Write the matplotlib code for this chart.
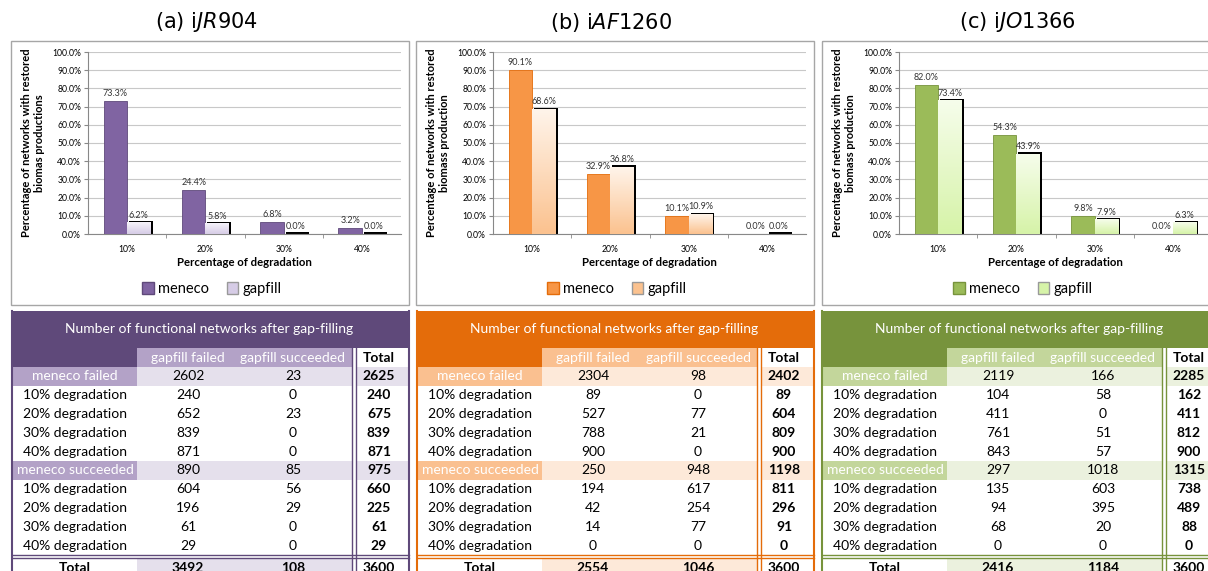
import numpy as np
import matplotlib.pyplot as plt
from matplotlib.colors import LinearSegmentedColormap
from matplotlib.patches import Rectangle, Patch

plt.rcParams['font.family'] = ['Lato', 'DejaVu Sans']

W, H = 1208, 571

# bar chart data (percentage of networks with restored biomass production)
degradation = ['10%', '20%', '30%', '40%']
meneco_jr = [73.3, 24.4, 6.8, 3.2]
gapfill_jr = [6.2, 5.8, 0.0, 0.0]
meneco_af = [90.1, 32.9, 10.1, 0.0]
gapfill_af = [68.6, 36.8, 10.9, 0.0]
meneco_jo = [82.0, 54.3, 9.8, 0.0]
gapfill_jo = [73.4, 43.9, 7.9, 6.3]

titles = ['(a) i$\\mathit{JR}$904', '(b) i$\\mathit{AF}$1260', '(c) i$\\mathit{JO}$1366']
ylabels = ['Percentage of networks with restored\nbiomas productions',
           'Percentage of networks with restored\nbiomass production',
           'Percentage of networks with restored\nbiomass production']

# table data
row_labels = ['meneco failed', '10% degradation', '20% degradation', '30% degradation', '40% degradation',
              'meneco succeeded', '10% degradation', '20% degradation', '30% degradation', '40% degradation']
gf_failed_jr = [2602, 240, 652, 839, 871, 890, 604, 196, 61, 29]
gf_succ_jr = [23, 0, 23, 0, 0, 85, 56, 29, 0, 0]
gf_failed_af = [2304, 89, 527, 788, 900, 250, 194, 42, 14, 0]
gf_succ_af = [98, 0, 77, 21, 0, 948, 617, 254, 77, 0]
gf_failed_jo = [2119, 104, 411, 761, 843, 297, 135, 94, 68, 0]
gf_succ_jo = [166, 58, 0, 51, 57, 1018, 603, 395, 20, 0]

# colours: dark, bar, mid, light, gradient top, gradient bottom
purple = ['#5f497a', '#8064a2', '#b3a2c7', '#e5e0ec', '#f6f3fa', '#d6cce6']
orange = ['#e46c0a', '#f79646', '#fac090', '#fde9d9', '#fff4ea', '#fbc28f']
green = ['#77933c', '#9bbb59', '#c3d69b', '#ebf1de', '#f6fdeb', '#d6f3a8']

fig = plt.figure(figsize=(W / 100, H / 100), dpi=100)
bg = fig.add_axes([0, 0, 1, 1])
bg.set_xlim(0, W)
bg.set_ylim(H, 0)
bg.axis('off')

TFS = 10  # table font size


def draw_chart(x0, meneco, gapfill, cols, title, ylabel):
    # chart frame
    bg.add_patch(Rectangle((x0, 41), 398, 264, fill=False, ec='#a6a6a6', lw=1))
    fig.text((x0 + 195) / W, 1 - 22 / H, title, ha='center', va='center',
             fontsize=15, family='DejaVu Sans')
    ax = fig.add_axes([(x0 + 77) / W, 1 - 234 / H, 313 / W, 182 / H])
    x = np.arange(len(degradation))
    w = 0.3
    ax.bar(x - w / 2, meneco, w, color=cols[1], edgecolor=cols[0], lw=0.6, zorder=3)
    # shadow of gapfill bars
    ax.bar(x + w / 2 + 0.025, [v + 0.9 for v in gapfill], w, color='black', zorder=2)
    cmap = LinearSegmentedColormap.from_list('g', [cols[4], cols[5]])
    grad = np.linspace(1, 0, 64).reshape(-1, 1)
    for xi, v in zip(x, gapfill):
        if v > 0:
            ax.imshow(grad, extent=(xi, xi + w, 0, v), origin='lower', aspect='auto',
                      cmap=cmap, zorder=3)
    for xi, v in zip(x, meneco):
        ax.annotate(f'{v:.1f}%', (xi - w / 2, v), xytext=(0, 2), textcoords='offset points',
                    ha='center', va='bottom', fontsize=6.5, color='#333333')
    for xi, v in zip(x, gapfill):
        ax.annotate(f'{v:.1f}%', (xi + w / 2, v), xytext=(0, 2), textcoords='offset points',
                    ha='center', va='bottom', fontsize=6.5, color='#333333')
    ax.set_xlim(-0.5, 3.5)
    ax.set_ylim(0, 100)
    ax.set_yticks(np.arange(0, 101, 10))
    ax.set_yticklabels([f'{v:.1f}%' for v in np.arange(0, 101, 10)], fontsize=6.2)
    ax.set_xticks(x)
    ax.set_xticklabels(degradation, fontsize=6.2)
    ax.set_xticks([0.5, 1.5, 2.5], minor=True)
    ax.tick_params(axis='x', which='major', length=0, pad=8)
    ax.tick_params(axis='x', which='minor', length=3, color='#888888')
    ax.tick_params(axis='y', length=3, color='#888888', pad=2)
    ax.grid(axis='y', color='#c8c8c8', lw=0.8, zorder=0)
    ax.set_axisbelow(True)
    for s in ['top', 'right']:
        ax.spines[s].set_visible(False)
    for s in ['left', 'bottom']:
        ax.spines[s].set_color('#888888')
    ax.set_xlabel('Percentage of degradation', fontsize=8.2, fontweight='bold', labelpad=2)
    fig.text((x0 + 22) / W, 1 - 143 / H, ylabel, rotation=90, ha='center', va='center',
             fontsize=8, fontweight='bold', multialignment='center', linespacing=1.3)
    handles = [Patch(facecolor=cols[1], edgecolor=cols[0]),
               Patch(facecolor=cols[5], edgecolor='#999999')]
    fig.legend(handles, ['meneco', 'gapfill'], loc='center', ncol=2, frameon=False,
               bbox_to_anchor=((x0 + 201) / W, 1 - 289 / H), fontsize=10.5,
               handlelength=0.8, handleheight=0.8, handletextpad=0.3, columnspacing=1.2)


def draw_table(x0, failed, succ, cols):
    dark, mid, light = cols[0], cols[2], cols[3]
    h = 18.8
    top = 367
    bg.add_patch(Rectangle((x0, 311), 397, 37, color=dark, lw=0))
    bg.add_patch(Rectangle((x0, 348), 125, 19, color=dark, lw=0))
    bg.add_patch(Rectangle((x0 + 125, 348), 215, 19, color=mid, lw=0))
    bg.text(x0 + 197, 329, 'Number of functional networks after gap-filling', ha='center',
            va='center', color='white', fontsize=TFS)
    bg.text(x0 + 176, 358, 'gapfill failed', ha='center', va='center', color='white', fontsize=TFS)
    bg.text(x0 + 281, 358, 'gapfill succeeded', ha='center', va='center', color='white', fontsize=TFS)
    bg.text(x0 + 367, 358, 'Total', ha='center', va='center', fontsize=TFS, fontweight='bold')
    for i, (lab, a, b) in enumerate(zip(row_labels, failed, succ)):
        y = top + i * h
        color = 'black'
        if i in (0, 5):
            bg.add_patch(Rectangle((x0, y), 125, h, color=mid, lw=0))
            bg.add_patch(Rectangle((x0 + 125, y), 215, h, color=light, lw=0))
            bg.add_patch(Rectangle((x0 + 344, y), 53, h, color=light, lw=0))
            color = 'white'
        yc = y + h / 2
        bg.text(x0 + 63, yc, lab, ha='center', va='center', color=color, fontsize=TFS)
        bg.text(x0 + 176, yc, str(a), ha='center', va='center', fontsize=TFS)
        bg.text(x0 + 281, yc, str(b), ha='center', va='center', fontsize=TFS)
        bg.text(x0 + 367, yc, str(a + b), ha='center', va='center', fontsize=TFS, fontweight='bold')
    # total row (cut by the lower edge, as in the source)
    ty = 559
    bg.add_patch(Rectangle((x0 + 125, ty), 215, 19, color=light, lw=0))
    tf = failed[0] + failed[5]
    ts = succ[0] + succ[5]
    bg.text(x0 + 63, ty + 9.5, 'Total', ha='center', va='center', fontsize=TFS, fontweight='bold')
    bg.text(x0 + 176, ty + 9.5, str(tf), ha='center', va='center', fontsize=TFS, fontweight='bold')
    bg.text(x0 + 281, ty + 9.5, str(ts), ha='center', va='center', fontsize=TFS, fontweight='bold')
    bg.text(x0 + 367, ty + 9.5, str(tf + ts), ha='center', va='center', fontsize=TFS, fontweight='bold')
    # borders
    bg.plot([x0 + 340, x0 + 340], [348, 580], color=dark, lw=1)
    bg.plot([x0 + 344, x0 + 344], [348, 580], color=dark, lw=1)
    bg.plot([x0, x0 + 397], [555, 555], color=dark, lw=1)
    bg.plot([x0, x0 + 397], [558, 558], color=dark, lw=1)
    bg.plot([x0, x0], [311, 580], color=dark, lw=1.5)
    bg.plot([x0 + 397, x0 + 397], [311, 580], color=dark, lw=1.5)


draw_chart(11, meneco_jr, gapfill_jr, purple, titles[0], ylabels[0])
draw_chart(416, meneco_af, gapfill_af, orange, titles[1], ylabels[1])
draw_chart(822, meneco_jo, gapfill_jo, green, titles[2], ylabels[2])

draw_table(12, gf_failed_jr, gf_succ_jr, purple)
draw_table(417, gf_failed_af, gf_succ_af, orange)
draw_table(822, gf_failed_jo, gf_succ_jo, green)

plt.savefig('out.png', dpi=100)
